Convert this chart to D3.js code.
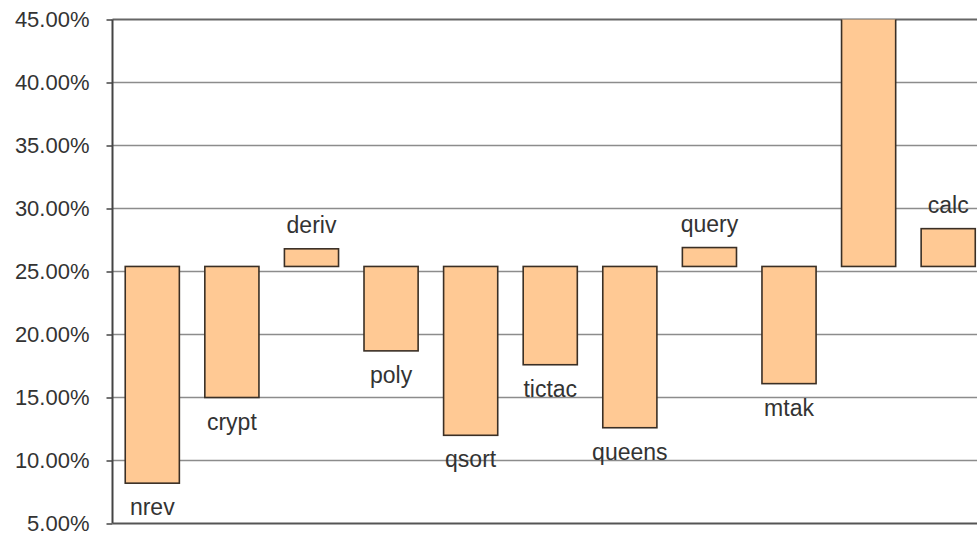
<!DOCTYPE html>
<html>
<head>
<meta charset="utf-8">
<script src="https://cdn.jsdelivr.net/npm/d3@7"></script>
<style>
  html, body { margin: 0; padding: 0; background: #fff; }
  svg { display: block; }
  text { font-family: Arial, "Liberation Sans", sans-serif; fill: #333; }
</style>
</head>
<body>
<svg id="chart" width="977" height="533"></svg>
<script>
// Benchmark names and their percentages
const categories = ["nrev", "crypt", "deriv", "poly", "qsort", "tictac", "queens", "query", "mtak", "tak", "calc"];
const values = [8.2, 15.0, 26.8, 18.7, 12.0, 17.6, 12.6, 26.9, 16.1, 50.0, 28.4];
// Level the bars grow from
const baseline = 25.4;
// Y axis ticks
const yTicks = [5, 10, 15, 20, 25, 30, 35, 40, 45];

const svg = d3.select("#chart");
const plot = { left: 112.5, right: 988, top: 19.5, bottom: 523.5 };

const x = d3.scaleBand()
  .domain(categories)
  .range([plot.left, plot.right])
  .paddingInner(0.32)
  .paddingOuter(0.16);

const y = d3.scaleLinear()
  .domain([5, 45])
  .range([plot.bottom, plot.top]);

svg.append("defs").append("clipPath").attr("id", "plotClip")
  .append("rect")
  .attr("x", plot.left).attr("y", plot.top)
  .attr("width", plot.right - plot.left).attr("height", plot.bottom - plot.top);

// Horizontal gridlines
svg.append("g")
  .selectAll("line")
  .data(yTicks.filter(t => t > 5))
  .join("line")
  .attr("x1", plot.left).attr("x2", plot.right)
  .attr("y1", d => y(d)).attr("y2", d => y(d))
  .attr("stroke", d => d === 45 ? "#666" : "#8c8c8c")
  .attr("stroke-width", d => d === 45 ? 2 : 1.5);

// Y axis with outward ticks
const yAxis = d3.axisLeft(y)
  .tickValues(yTicks)
  .tickSize(6)
  .tickPadding(17)
  .tickFormat(d => d3.format(".2f")(d) + "%");

const gy = svg.append("g")
  .attr("transform", `translate(${plot.left},0)`)
  .call(yAxis);
gy.select(".domain").remove();
gy.selectAll(".tick line").attr("stroke", "#444").attr("stroke-width", 1.5);
gy.selectAll(".tick text")
  .attr("font-size", 22)
  .attr("fill", "#333")
  .style("font-family", "Arial, 'Liberation Sans', sans-serif");

const rows = categories.map((c, i) => ({ c, v: values[i] }));

// Bars from the baseline to each value
svg.append("g")
  .attr("clip-path", "url(#plotClip)")
  .selectAll("rect")
  .data(rows)
  .join("rect")
  .attr("x", d => x(d.c))
  .attr("width", x.bandwidth())
  .attr("y", d => y(Math.max(d.v, baseline)))
  .attr("height", d => Math.abs(y(d.v) - y(baseline)))
  .attr("fill", "#ffc994")
  .attr("stroke", "#3a2f25")
  .attr("stroke-width", 1.6);

// Axis lines
svg.append("line")
  .attr("x1", plot.left).attr("x2", plot.left)
  .attr("y1", plot.top).attr("y2", plot.bottom)
  .attr("stroke", "#444").attr("stroke-width", 2);
svg.append("line")
  .attr("x1", plot.left).attr("x2", plot.right)
  .attr("y1", plot.bottom).attr("y2", plot.bottom)
  .attr("stroke", "#555").attr("stroke-width", 2);

// Category labels: below bars under the baseline, above bars over it;
// bars running past the top of the axis carry no label
const [yMin, yMax] = y.domain();
svg.append("g")
  .selectAll("text")
  .data(rows.filter(d => d.v >= yMin && d.v <= yMax))
  .join("text")
  .attr("x", d => x(d.c) + x.bandwidth() / 2)
  .attr("y", d => d.v < baseline ? y(d.v) + 32 : y(d.v) - 16)
  .attr("text-anchor", "middle")
  .attr("font-size", 23)
  .text(d => d.c);
</script>
</body>
</html>
